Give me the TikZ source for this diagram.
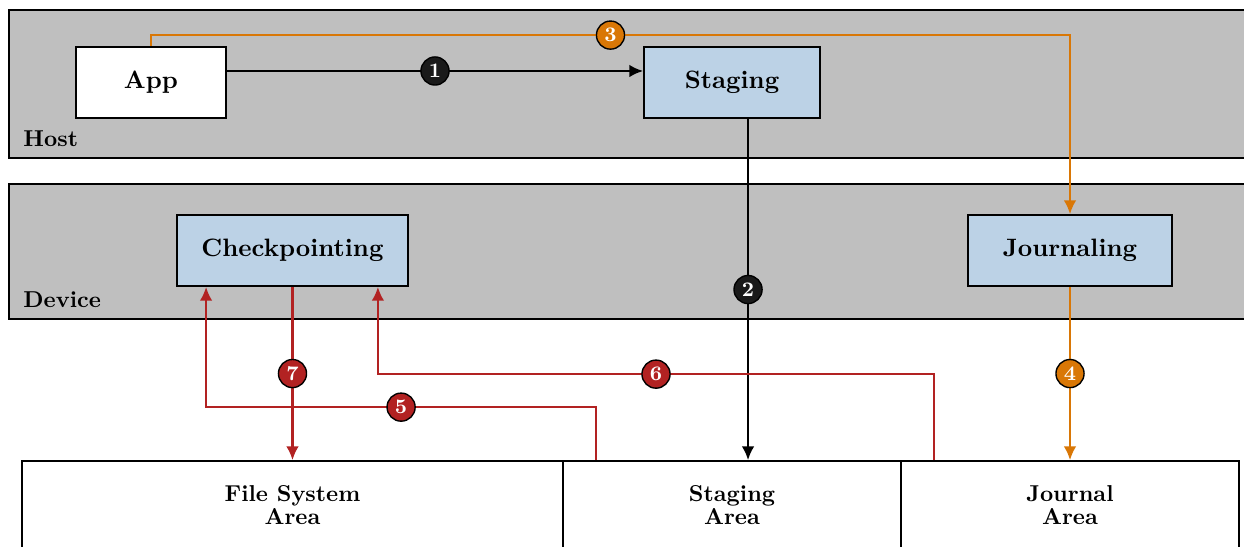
\documentclass[tikz,border=0pt]{standalone}
\usetikzlibrary{arrows.meta,positioning}
\definecolor{bandgray}{RGB}{191,191,191}
\definecolor{paleblue}{RGB}{188,210,230}
\definecolor{amber}{RGB}{217,119,6}
\definecolor{brick}{RGB}{178,34,34}
\definecolor{ink}{RGB}{26,26,26}
\tikzset{
  >={Latex[length=6pt,width=5.5pt]},
  band/.style={draw=black,fill=bandgray,line width=1pt,anchor=north west,inner sep=0pt,
    minimum width=20cm,minimum height=#1},
  unit/.style={draw=black,fill=#1,thick,minimum height=1.086cm,inner sep=0pt,
    font=\fontsize{10.95}{13}\selectfont\bfseries},
  unit/.default=paleblue,
  area/.style={draw=black,fill=white,thick,minimum height=1.346cm,inner sep=0pt,
    align=center,font=\bfseries},
  flow/.style={->,line width=0.95pt,draw=#1},
  flow/.default=black,
  badge/.style={circle,draw=black,fill=#1,text=white,semithick,minimum size=0.43cm,
    inner sep=0pt,font=\small\bfseries},
  badge/.default=ink,
  tag/.style={anchor=base west,inner sep=0pt,font=\bfseries},
}

\begin{document}
\begin{tikzpicture}
  \useasboundingbox (0,0) rectangle (19.033,-8.354);
  \clip (0,0) rectangle (19.033,-8.354);

  % host and device layers
  \node[band=2.264cm] (host) at (0.122,-0.138) {};
  \node[band=2.065cm] (device) at (0.122,-2.800) {};
  \node[tag] (hostlbl) at (0.352,-2.234) {Host};
  \node[tag] (devlbl) at (0.352,-4.70) {Device};

  \node[unit=white,minimum width=2.295cm] (app) at (2.31,-1.262) {App};
  \node[unit,minimum width=2.693cm] (stg) at (11.20,-1.262) {Staging};
  \node[unit,minimum width=3.534cm] (chk) at (4.475,-3.833) {Checkpointing};
  \node[unit,minimum width=3.121cm] (jrn) at (16.371,-3.833) {Journaling};

  % storage areas
  \node[area,minimum width=8.277cm] (fsarea) at (4.475,-7.727) {File System\\[-2pt]Area};
  \node[area,minimum width=5.171cm] (starea) at (11.20,-7.727) {Staging\\[-2pt]Area};
  \node[area,minimum width=5.171cm] (jarea) at (16.371,-7.727) {Journal\\[-2pt]Area};

  \draw[flow] ([yshift=0.176cm]app.east) -- ([yshift=0.176cm]stg.west)
    node[badge,midway] (b1) {1};
  \draw[flow] ([xshift=0.245cm]stg.south) -- ([xshift=0.245cm]stg.south |- starea.north)
    node[badge,midway] (b2) {2};
  \draw[flow=amber] (app.north) -- ++(0,0.168) -| (jrn.north)
    node[badge=amber,pos=0.25] (b3) {3};
  \draw[flow=amber] (jrn.south) -- (jarea.north)
    node[badge=amber,midway] (b4) {4};
  \draw[flow=brick] ([xshift=0.52cm]starea.north west) -- ++(0,0.811)
    -| ([xshift=0.459cm]chk.south west)
    node[badge=brick,pos=0.25] (b5) {5};
  \draw[flow=brick] ([xshift=0.52cm]jarea.north west) -- ++(0,1.316)
    -| ([xshift=-0.474cm]chk.south east)
    node[badge=brick,pos=0.25] (b6) {6};
  \draw[flow=brick] (chk.south) -- (fsarea.north)
    node[badge=brick,midway] (b7) {7};
\end{tikzpicture}
\end{document}
